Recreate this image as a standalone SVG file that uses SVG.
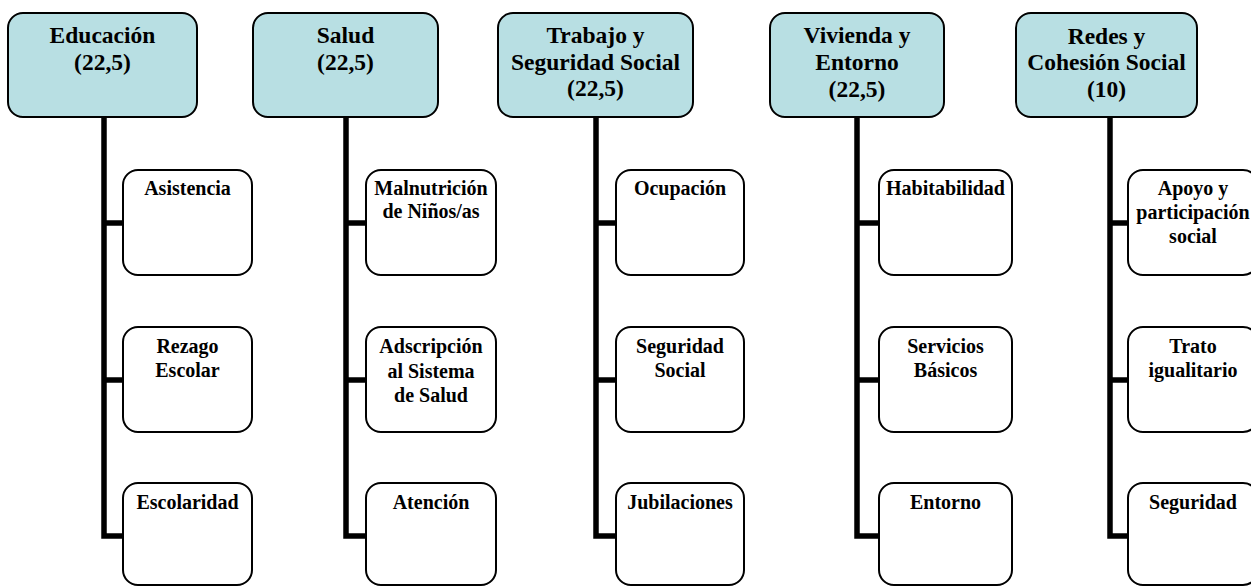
<svg xmlns="http://www.w3.org/2000/svg" width="1251" height="586" viewBox="0 0 1251 586">
<style>
.hdr{fill:#b8dfe3;stroke:#000;stroke-width:2}
.box{fill:#fff;stroke:#000;stroke-width:2}
text{font-family:'Liberation Serif',Tinos,'Times New Roman',Times,'DejaVu Serif',serif;font-weight:bold;fill:#000;text-anchor:middle}
.ht{font-size:23.5px}
.ct{font-size:20px}
.con{fill:none;stroke:#000;stroke-width:5.5;stroke-linejoin:miter}
</style>
<rect width="1251" height="586" fill="#fff"/>
<g id="connectors">
<path class="con" d="M104,117 V536 H124 M104,223 H124 M104,380 H124"/>
<path class="con" d="M346,117 V536 H367 M346,223 H367 M346,380 H367"/>
<path class="con" d="M596,117 V536 H617 M596,223 H617 M596,380 H617"/>
<path class="con" d="M857,117 V536 H880 M857,223 H880 M857,380 H880"/>
<path class="con" d="M1110,117 V536 H1129 M1110,223 H1129 M1110,380 H1129"/>
</g>
<g id="educacion">
<rect class="hdr" x="8" y="13" width="189" height="104" rx="15"/>
<text class="ht" x="102.5" y="43" font-family="Liberation Serif, serif">Educación</text>
<text class="ht" x="102.5" y="70" font-family="Liberation Serif, serif">(22,5)</text>
</g>
<g id="asistencia"><rect class="box" x="123" y="170" width="129" height="105" rx="15"/><text class="ct" x="187.5" y="195">Asistencia</text></g>
<g id="rezago"><rect class="box" x="123" y="327" width="129" height="105" rx="15"/><text class="ct" x="187.5" y="353">Rezago</text><text class="ct" x="187.5" y="377">Escolar</text></g>
<g id="escolaridad"><rect class="box" x="123" y="483" width="129" height="102" rx="15"/><text class="ct" x="187.5" y="509">Escolaridad</text></g>

<g id="salud">
<rect class="hdr" x="253" y="13" width="185" height="104" rx="15"/>
<text class="ht" x="345.5" y="43">Salud</text>
<text class="ht" x="345.5" y="70">(22,5)</text>
</g>
<g id="malnutricion"><rect class="box" x="366" y="170" width="130" height="105" rx="15"/><text class="ct" x="431" y="195">Malnutrición</text><text class="ct" x="431" y="218">de Niños/as</text></g>
<g id="adscripcion"><rect class="box" x="366" y="327" width="130" height="105" rx="15"/><text class="ct" x="431" y="353">Adscripción</text><text class="ct" x="431" y="378">al Sistema</text><text class="ct" x="431" y="402">de Salud</text></g>
<g id="atencion"><rect class="box" x="366" y="483" width="130" height="102" rx="15"/><text class="ct" x="431" y="509">Atención</text></g>

<g id="trabajo">
<rect class="hdr" x="498" y="13" width="195" height="104" rx="15"/>
<text class="ht" x="595.5" y="43">Trabajo y</text>
<text class="ht" x="595.5" y="70">Seguridad Social</text>
<text class="ht" x="595.5" y="96">(22,5)</text>
</g>
<g id="ocupacion"><rect class="box" x="616" y="170" width="128" height="105" rx="15"/><text class="ct" x="680" y="195">Ocupación</text></g>
<g id="seguridadsocial"><rect class="box" x="616" y="327" width="128" height="105" rx="15"/><text class="ct" x="680" y="353">Seguridad</text><text class="ct" x="680" y="377">Social</text></g>
<g id="jubilaciones"><rect class="box" x="616" y="483" width="128" height="102" rx="15"/><text class="ct" x="680" y="509">Jubilaciones</text></g>

<g id="vivienda">
<rect class="hdr" x="770" y="13" width="174" height="104" rx="15"/>
<text class="ht" x="857" y="43">Vivienda y</text>
<text class="ht" x="857" y="70">Entorno</text>
<text class="ht" x="857" y="97">(22,5)</text>
</g>
<g id="habitabilidad"><rect class="box" x="879" y="170" width="133" height="105" rx="15"/><text class="ct" x="945.5" y="195">Habitabilidad</text></g>
<g id="servicios"><rect class="box" x="879" y="327" width="133" height="105" rx="15"/><text class="ct" x="945.5" y="353">Servicios</text><text class="ct" x="945.5" y="377">Básicos</text></g>
<g id="entorno"><rect class="box" x="879" y="483" width="133" height="102" rx="15"/><text class="ct" x="945.5" y="509">Entorno</text></g>

<g id="redes">
<rect class="hdr" x="1016" y="13" width="181" height="104" rx="15"/>
<text class="ht" x="1106.5" y="44">Redes y</text>
<text class="ht" x="1106.5" y="70">Cohesión Social</text>
<text class="ht" x="1106.5" y="97">(10)</text>
</g>
<g id="apoyo"><rect class="box" x="1128" y="170" width="130" height="105" rx="15"/><text class="ct" x="1193" y="195">Apoyo y</text><text class="ct" x="1193" y="219">participación</text><text class="ct" x="1193" y="243">social</text></g>
<g id="trato"><rect class="box" x="1128" y="327" width="130" height="105" rx="15"/><text class="ct" x="1193" y="353">Trato</text><text class="ct" x="1193" y="377">igualitario</text></g>
<g id="seguridad"><rect class="box" x="1128" y="483" width="130" height="102" rx="15"/><text class="ct" x="1193" y="509">Seguridad</text></g>
</svg>
